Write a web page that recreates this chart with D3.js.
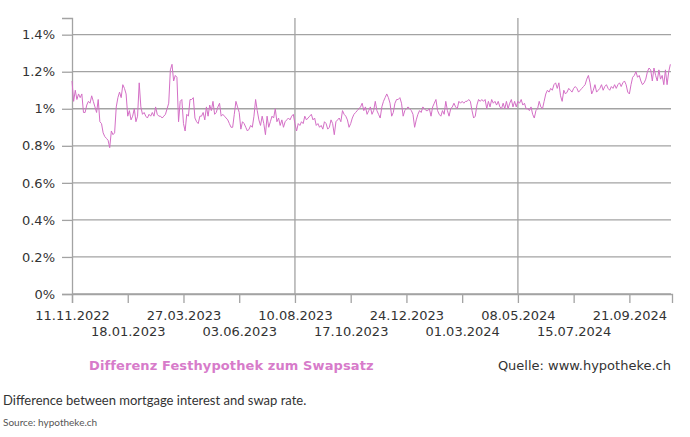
<!DOCTYPE html>
<html>
<head>
<meta charset="utf-8">
<script src="https://cdn.jsdelivr.net/npm/d3@7"></script>
<style>
  body { margin: 0; background: #fff; }
  svg { display: block; }
</style>
</head>
<body>
<svg id="chart" width="690" height="437"></svg>
<script>
// spread between fixed mortgage and swap rate, in %, one reading every second day
const firstDay = "11.11.2022"
const lastDay = "12.11.2024"
const stepDays = 2
const spread = [
  1.15,1.04,1.10,1.05,1.08,1.06,1.08,0.98,0.98,1.02,
  1.04,1.03,1.07,1.04,1.01,0.98,1.05,0.93,0.92,0.87,
  0.85,0.84,0.83,0.79,0.88,0.86,0.87,1.01,1.06,1.09,
  1.06,1.13,1.11,1.08,0.96,0.99,0.94,0.96,1.00,0.93,
  0.96,1.14,1.01,0.97,0.98,0.96,0.95,0.97,0.96,0.98,
  0.96,1.01,0.97,0.96,0.96,0.95,0.96,0.97,1.00,1.03,
  1.21,1.24,1.15,1.18,1.17,0.93,1.04,1.05,0.92,0.88,
  0.97,0.96,1.05,1.05,1.06,0.95,0.93,0.92,0.96,0.96,
  0.98,0.94,1.01,0.96,1.02,0.99,1.04,0.97,0.98,1.01,
  1.03,0.96,0.97,0.96,0.95,0.94,0.92,0.90,0.90,0.97,
  1.04,1.01,0.98,0.89,0.93,0.92,0.90,0.88,0.89,0.91,
  0.90,0.96,1.05,0.99,0.94,0.91,0.96,0.92,0.86,0.96,
  0.90,0.93,0.96,0.95,1.00,0.93,0.95,0.91,0.94,0.90,
  0.93,0.94,0.95,0.94,0.96,0.97,0.92,0.88,0.92,0.91,
  0.93,0.92,0.96,0.94,0.95,0.96,0.97,0.94,0.95,0.91,
  0.92,0.90,0.91,0.89,0.93,0.92,0.89,0.90,0.94,0.92,
  0.86,0.93,0.94,0.95,0.93,0.99,0.97,0.96,0.94,0.90,
  0.92,0.95,0.97,0.98,0.99,1.00,1.01,1.03,0.99,1.01,
  0.97,0.99,1.01,0.97,0.99,1.04,0.99,0.97,0.95,1.01,
  1.04,1.06,1.08,1.06,1.03,0.96,0.98,1.03,1.05,1.05,
  1.06,1.03,0.96,0.99,1.00,1.01,1.00,0.99,0.97,0.90,
  0.94,0.97,0.99,0.98,1.01,1.00,0.99,0.99,1.00,0.96,
  1.01,1.03,1.05,0.99,0.97,0.96,0.99,0.97,1.04,0.99,
  0.96,1.00,1.01,1.03,1.01,1.00,1.04,1.03,1.04,1.03,
  1.04,1.04,1.05,1.04,0.99,0.95,0.96,1.02,1.05,1.04,
  1.05,1.04,1.05,1.00,1.04,1.01,1.05,1.03,1.04,1.02,
  1.04,1.01,1.00,1.03,1.00,1.04,1.00,1.03,1.05,1.01,
  1.04,1.01,1.04,1.03,1.05,1.02,1.03,1.00,1.00,0.99,
  1.01,0.97,0.95,0.99,1.00,1.04,1.01,1.00,1.04,1.08,
  1.10,1.09,1.11,1.10,1.13,1.14,1.11,1.14,1.07,1.04,
  1.10,1.08,1.09,1.11,1.10,1.09,1.11,1.12,1.11,1.09,
  1.10,1.11,1.12,1.13,1.16,1.18,1.14,1.08,1.10,1.13,
  1.09,1.10,1.11,1.13,1.10,1.12,1.13,1.11,1.10,1.12,
  1.11,1.13,1.11,1.13,1.14,1.12,1.14,1.15,1.13,1.09,
  1.08,1.13,1.17,1.18,1.20,1.17,1.18,1.15,1.13,1.14,
  1.16,1.20,1.22,1.21,1.15,1.22,1.18,1.15,1.21,1.16,
  1.18,1.13,1.21,1.13,1.20,1.24
]

const tickLabels = ["11.11.2022", "18.01.2023", "27.03.2023", "03.06.2023", "10.08.2023",
  "17.10.2023", "24.12.2023", "01.03.2024", "08.05.2024", "15.07.2024", "21.09.2024"]
const gridLabels = ["10.08.2023", "08.05.2024"]
const yTicks = [0, 0.2, 0.4, 0.6, 0.8, 1, 1.2, 1.4]
const yMax = 1.49

const seriesName = "Differenz Festhypothek zum Swapsatz"
const sourceText = "Quelle: www.hypotheke.ch"
const caption = "Difference between mortgage interest and swap rate."
const credit = "Source: hypotheke.ch"

const parseDay = d3.timeParse("%d.%m.%Y")
const start = parseDay(firstDay)
const data = spread.map((v, i) => ({ date: d3.timeDay.offset(start, i * stepDays), value: v }))

const svg = d3.select('#chart')
const plotLeft = 72, plotRight = 672, plotTop = 18, plotBottom = 294
const font = "DejaVu Sans, sans-serif"
const gridColor = "#a3a3a3"
const pink = "#d46fc6"

const xScale = d3.scaleTime().domain([start, parseDay(lastDay)]).range([plotLeft, plotRight])
const yScale = d3.scaleLinear().domain([0, yMax]).range([plotBottom, plotTop])

// horizontal grid
svg.append('g')
  .selectAll('line')
  .data(yTicks)
  .join('line')
  .attr('x1', plotLeft).attr('x2', plotRight - 1)
  .attr('y1', d => yScale(d)).attr('y2', d => yScale(d))
  .attr('stroke', gridColor)
  .attr('stroke-width', 1.3)

// vertical grid
svg.append('g')
  .selectAll('line')
  .data(gridLabels.map(parseDay))
  .join('line')
  .attr('x1', d => xScale(d)).attr('x2', d => xScale(d))
  .attr('y1', plotTop).attr('y2', plotBottom)
  .attr('stroke', gridColor)
  .attr('stroke-width', 1.3)

const yAxis = d3.axisLeft(yScale)
  .tickValues(yTicks)
  .tickSize(10)
  .tickPadding(7)
  .tickFormat(d => d3.format(".1~f")(d) + "%")
const yg = svg.append('g')
  .attr('transform', `translate(${plotLeft}, 0)`)
  .call(yAxis)

const xAxis = d3.axisBottom(xScale)
  .tickValues(tickLabels.map(parseDay))
  .tickSize(9)
  .tickFormat((d, i) => tickLabels[i])
const xg = svg.append('g')
  .attr('transform', `translate(0, ${plotBottom})`)
  .call(xAxis)

xg.selectAll('.tick text')
  .attr('dy', 0)
  .attr('y', (d, i) => i % 2 === 0 ? 26 : 42)

for (const g of [xg, yg]) {
  g.selectAll('path, line').attr('stroke', gridColor).attr('stroke-width', 1.3)
  g.selectAll('text').attr('fill', '#333').style('font-family', font).style('font-size', '13px')
}

svg.append('path')
  .datum(data)
  .attr('fill', 'none')
  .attr('stroke', pink)
  .attr('stroke-width', 1)
  .attr('stroke-linejoin', 'round')
  .attr('d', d3.line().x(d => xScale(d.date)).y(d => yScale(d.value)))

svg.append('text')
  .attr('x', 89).attr('y', 370)
  .attr('fill', '#d77bca')
  .style('font-family', font).style('font-size', '13px').style('font-weight', 'bold')
  .style('letter-spacing', '0.1px')
  .text(seriesName)

svg.append('text')
  .attr('x', 671).attr('y', 370)
  .attr('text-anchor', 'end')
  .attr('fill', '#333')
  .style('font-family', font).style('font-size', '13px')
  .text(sourceText)

svg.append('text')
  .attr('x', 3).attr('y', 405)
  .attr('fill', '#333')
  .style('font-family', 'Lato, sans-serif').style('font-size', '13px')
  .text(caption)

svg.append('text')
  .attr('x', 3).attr('y', 426)
  .attr('fill', '#555')
  .style('font-family', 'Lato, sans-serif').style('font-size', '10px')
  .text(credit)
</script>
</body>
</html>
